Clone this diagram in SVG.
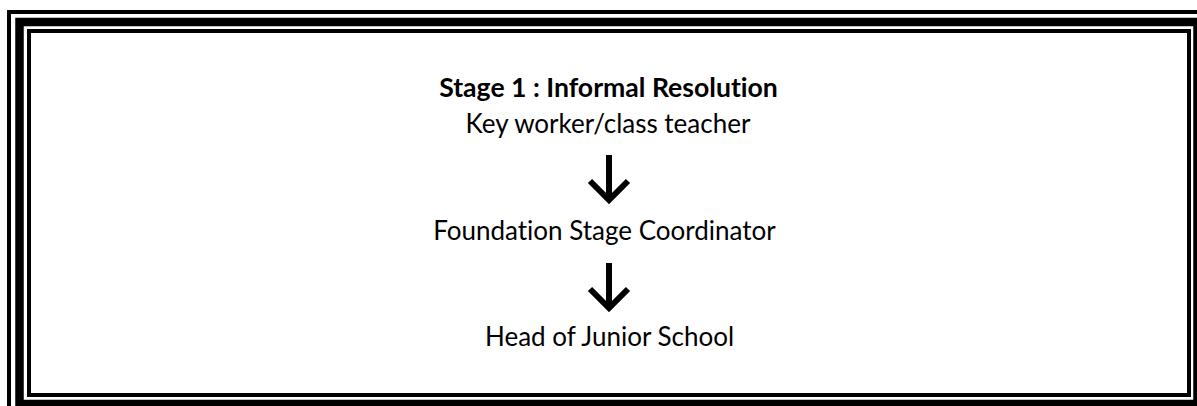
<svg xmlns="http://www.w3.org/2000/svg" width="1197" height="406" viewBox="0 0 1197 406">
<style>
.frame{fill:none;stroke:#000}
.t{font-family:Lato,"Open Sans","Liberation Sans",sans-serif;font-size:26px;fill:#000;text-anchor:middle;font-variant-ligatures:none;font-feature-settings:"liga" 0}
.b{font-weight:bold;font-size:26.6px}
.arr{fill:none;stroke:#000;stroke-width:6;stroke-linecap:butt;stroke-linejoin:miter}
</style>
<rect width="1197" height="406" fill="#fff"/>
<g id="frame">
<rect class="frame" x="9" y="12" width="1200" height="404" stroke-width="4"/>
<rect class="frame" x="19.5" y="22" width="1178" height="382" stroke-width="8.5"/>
<rect class="frame" x="29" y="31" width="1160" height="364" stroke-width="4"/>
</g>
<g id="stage1">
<text class="t b" x="608.5" y="97">Stage 1 : Informal Resolution</text>
<text class="t" x="608" y="133">Key worker/class teacher</text>
</g>
<g id="foundation">
<text class="t" x="604.5" y="240">Foundation Stage Coordinator</text>
</g>
<g id="head">
<text class="t" x="609.5" y="346">Head of Junior School</text>
</g>
<g id="connectors">
<path class="arr" d="M609 155V199M590 181L609 200L628 181"/>
<path class="arr" d="M609 263V307M590 289L609 308L628 289"/>
</g>
</svg>
